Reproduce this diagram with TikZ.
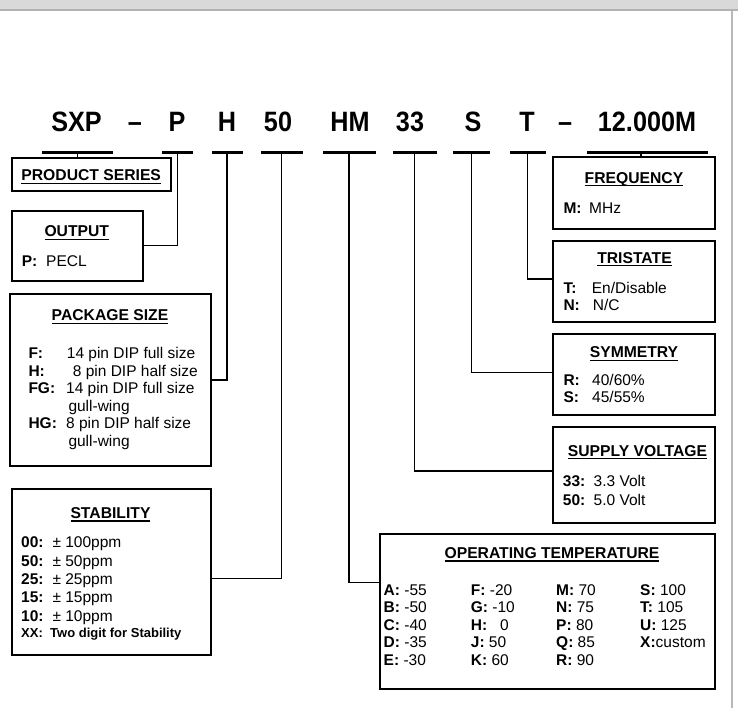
\documentclass[tikz,border=0pt]{standalone}
\usepackage{fontspec}
\setmainfont{Liberation Sans}
\newfontfamily\codefont{Liberation Sans}[FakeStretch=0.9]
\newcommand\ulh[1]{\setbox0\hbox{#1}\rlap{\rule[-3.2pt]{\wd0}{1.3pt}}\box0}
\tikzset{
 box/.style={draw, line width=2.2pt, inner sep=0pt, outer sep=0pt, anchor=north west},
 bar/.style={fill, inner sep=0pt, outer sep=0pt, minimum height=3.5pt},
 conn/.style={line width=1.3pt},
 code/.style={anchor=base, inner sep=0pt, font=\codefont\bfseries\fontsize{28}{30}\selectfont},
 head/.style={anchor=base, inner sep=0pt, font=\bfseries\fontsize{15.7}{18}\selectfont},
 txt/.style={anchor=base west, inner sep=0pt, font=\fontsize{15.5}{17}\selectfont},
 lab/.style={txt, font=\bfseries\fontsize{15.5}{17}\selectfont},
}
\begin{document}
\begin{tikzpicture}[x=1pt,y=-1pt]
\useasboundingbox (0,0) rectangle (738,708);
% frame decoration
\fill[black!15] (0,0) rectangle (738,9);
\fill[black!30] (0,9) rectangle (738,11);
\fill[black!28] (731,11) rectangle (733,708);

% code row
\node[code] (cSXP) at (76.5,132) {SXP};
\node[code] (cd1) at (135,132) {–};
\node[code] (cP) at (177,132) {P};
\node[code] (cH) at (227,132) {H};
\node[code] (c50) at (278,132) {50};
\node[code] (cHM) at (350,132) {HM};
\node[code] (c33) at (410,132) {33};
\node[code] (cS) at (473,132) {S};
\node[code] (cT) at (527,132) {T};
\node[code] (cd2) at (565,132) {–};
\node[code] (c12) at (647,132) {12.000M};

% bars
\node[bar, minimum width=71pt] (bSXP) at (77.5,152.3) {};
\node[bar, minimum width=31pt] (bP) at (177.5,152.3) {};
\node[bar, minimum width=31pt] (bH) at (227,152.3) {};
\node[bar, minimum width=42pt] (b50) at (281.5,152.3) {};
\node[bar, minimum width=53pt] (bHM) at (349,152.3) {};
\node[bar, minimum width=44pt] (b33) at (414.5,152.3) {};
\node[bar, minimum width=37pt] (bS) at (471.5,152.3) {};
\node[bar, minimum width=36pt] (bT) at (527.5,152.3) {};
\node[bar, minimum width=121pt] (b12) at (647.5,152.3) {};

% boxes
\node[box, minimum width=159.3pt, minimum height=33.3pt] (ps) at (11.7,157.7) {};
\node[box, minimum width=131.6pt, minimum height=70.3pt] (out) at (11.7,210.7) {};
\node[box, minimum width=201pt, minimum height=171.7pt] (pkg) at (10,294) {};
\node[box, minimum width=199pt, minimum height=165.7pt] (stab) at (11.7,489.3) {};
\node[box, minimum width=162.3pt, minimum height=72.3pt] (freq) at (552.7,156.7) {};
\node[box, minimum width=162.3pt, minimum height=81.3pt] (tri) at (552.7,241) {};
\node[box, minimum width=162.3pt, minimum height=81pt] (sym) at (552.7,334) {};
\node[box, minimum width=162.3pt, minimum height=95.4pt] (sup) at (552.7,427.3) {};
\node[box, minimum width=335pt, minimum height=154.7pt] (op) at (380,534.3) {};

% connectors
\draw[conn] (bSXP.south) -- (bSXP.south |- ps.north);
\draw[conn] (bP.south) |- (out.east);
\draw[conn] (bH.south) |- (pkg.east);
\draw[conn] (b50.south) |- ([yshift=-6pt]stab.east);
\draw[conn] (bHM.south) |- ([yshift=29pt]op.west);
\draw[conn] (b33.south) |- ([yshift=4pt]sup.west);
\draw[conn] (bS.south) |- ([yshift=2pt]sym.west);
\draw[conn] (bT.south) |- ([yshift=2.7pt]tri.west);
\coordinate (c12f) at ([xshift=-6.5pt]b12.south);
\draw[conn] (c12f) -- (c12f |- freq.north);

% headings
\node[head] (hps) at (91.2,180.7) {\ulh{PRODUCT SERIES}};
\node[head] (hout) at (76.8,236.7) {\ulh{OUTPUT}};
\node[head] (hpkg) at (110,320.7) {\ulh{PACKAGE SIZE}};
\node[head] (hstab) at (110.5,518.3) {\ulh{STABILITY}};
\node[head] (hfreq) at (634,183.3) {\ulh{FREQUENCY}};
\node[head] (htri) at (634.5,263.3) {\ulh{TRISTATE}};
\node[head] (hsym) at (634,357.7) {\ulh{SYMMETRY}};
\node[head] (hsup) at (637.5,456) {\ulh{SUPPLY VOLTAGE}};
\node[head] (hop) at (552,558.3) {\ulh{OPERATING TEMPERATURE}};

% output
\node[lab] (outl1) at (21.7,266.7) {P:};
\node[txt] (outv1) at (46,266.7) {PECL};

% package size
\node[lab] (pkl1) at (28.3,358.3) {F:};
\node[txt] (pkv1) at (66.7,358.3) {14 pin DIP full size};
\node[lab] (pkl2) at (28.3,376) {H:};
\node[txt] (pkv2) at (72.7,376) {8 pin DIP half size};
\node[lab] (pkl3) at (28.3,393.3) {FG:};
\node[txt] (pkv3) at (66,393.3) {14 pin DIP full size};
\node[txt] (pkv3b) at (68.3,411) {gull-wing};
\node[lab] (pkl4) at (28.3,428.3) {HG:};
\node[txt] (pkv4) at (66,428.3) {8 pin DIP half size};
\node[txt] (pkv4b) at (68.3,446) {gull-wing};

% stability
\node[lab] (stl1) at (21,547.7) {00:};
\node[txt] (stv1) at (52.3,547.7) {± 100ppm};
\node[lab] (stl2) at (21,566) {50:};
\node[txt] (stv2) at (52.3,566) {± 50ppm};
\node[lab] (stl3) at (21,584.3) {25:};
\node[txt] (stv3) at (52.3,584.3) {± 25ppm};
\node[lab] (stl4) at (21,602.7) {15:};
\node[txt] (stv4) at (52.3,602.7) {± 15ppm};
\node[lab] (stl5) at (21,621) {10:};
\node[txt] (stv5) at (52.3,621) {± 10ppm};
\node[lab, font=\bfseries\fontsize{13}{15}\selectfont] (stl6) at (21,637.7) {XX:};
\node[lab, font=\bfseries\fontsize{13}{15}\selectfont] (stv6) at (50,637.7) {Two digit for Stability};

% frequency
\node[lab] (frl1) at (563.3,214) {M:};
\node[txt] (frv1) at (589,214) {MHz};

% tristate
\node[lab] (trl1) at (563.3,293.3) {T:};
\node[txt] (trv1) at (591.7,293.3) {En/Disable};
\node[lab] (trl2) at (563.3,310.7) {N:};
\node[txt] (trv2) at (592.7,310.7) {N/C};

% symmetry
\node[lab] (syl1) at (563.3,385) {R:};
\node[txt] (syv1) at (592,385) {40/60\%};
\node[lab] (syl2) at (563.3,402.7) {S:};
\node[txt] (syv2) at (592,402.7) {45/55\%};

% supply voltage
\node[lab] (sul1) at (562.7,486.7) {33:};
\node[txt] (suv1) at (593.5,486.7) {3.3 Volt};
\node[lab] (sul2) at (562.7,505) {50:};
\node[txt] (suv2) at (593.5,505) {5.0 Volt};

% operating temperature
\foreach \l/\v/\y [count=\i] in {A:/-55/595, B:/-50/612.7, C:/-40/630, D:/-35/647.7, E:/-30/665}{
  \node[txt] (opa\i) at (383.5,\y) {\textbf{\l} \v};
}
\foreach \l/\v/\y [count=\i] in {F:/-20/595, G:/-10/612.7, H:/{\ \ 0}/630, J:/50/647.7, K:/60/665}{
  \node[txt] (opb\i) at (470.7,\y) {\textbf{\l} \v};
}
\foreach \l/\v/\y [count=\i] in {M:/70/595, N:/75/612.7, P:/80/630, Q:/85/647.7, R:/90/665}{
  \node[txt] (opc\i) at (556,\y) {\textbf{\l} \v};
}
\foreach \l/\v/\y [count=\i] in {S:/100/595, T:/105/612.7, U:/125/630}{
  \node[txt] (opd\i) at (640,\y) {\textbf{\l} \v};
}
\node[txt] (opd4) at (640,647.7) {\textbf{X:}custom};
\end{tikzpicture}
\end{document}
